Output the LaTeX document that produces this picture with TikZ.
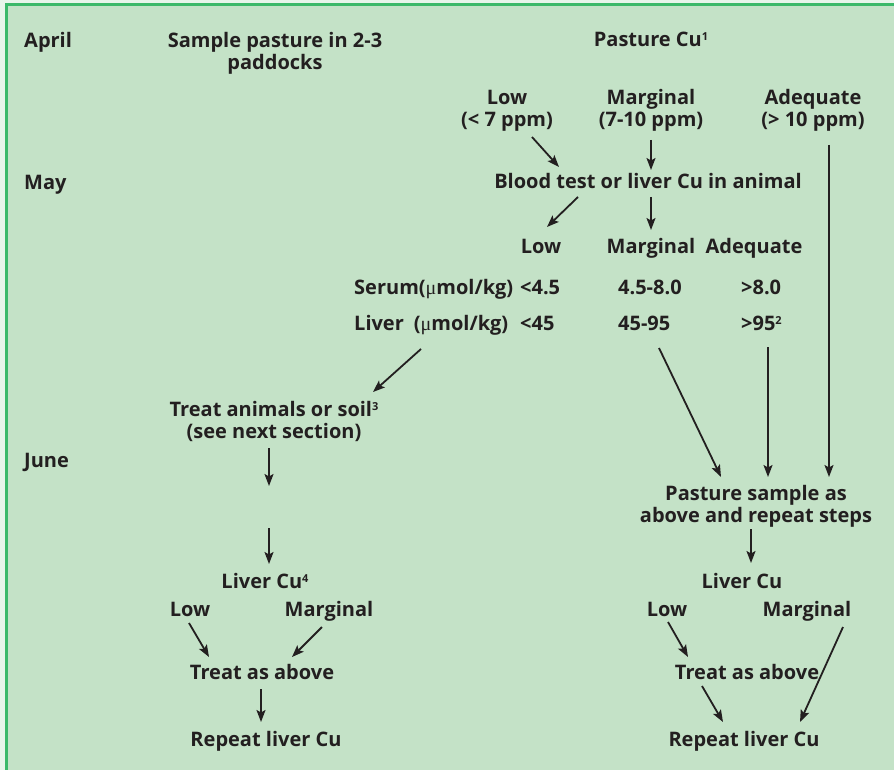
\documentclass[tikz,border=0pt]{standalone}
\usepackage{fontspec}
\setmainfont{Open Sans}
\newfontfamily\mufont{Liberation Serif}
\usetikzlibrary{calc,arrows.meta}
\definecolor{ink}{HTML}{231F20}
\definecolor{boxfill}{HTML}{C4E2C7}
\definecolor{boxline}{HTML}{3CB96A}
\definecolor{pagebg}{HTML}{E9F5EB}
\tikzset{
	txt/.style={font=\bfseries\fontsize{20}{22}\selectfont, text=ink, inner sep=0pt, align=center, anchor=base},
	txtl/.style={txt, align=left, anchor=base west},
	arr/.style={draw=ink, line width=1.8pt, -{Stealth[length=12pt,width=9pt,inset=2.5pt]}},
}
\newcommand{\mumol}{{\mdseries\mufont μ}mol/kg}
\newcommand{\fnum}[1]{\raisebox{6pt}{\fontsize{11}{11}\selectfont #1}}

\begin{document}
\begin{tikzpicture}[x=1pt,y=-1pt]
			%%%%% START %%%%%
			\useasboundingbox (0,0) rectangle (894,770);
			\fill[pagebg] (0,0) rectangle (894,770);
			\fill[boxfill] (6,5) rectangle (894,770);
			\draw[boxline, line width=3pt] (6,770) -- (6,5) -- (894,5);
			
			\node[txtl] (april) at (24,48) {April};
			\node[txtl] (may) at (24,190) {May};
			\node[txtl] (june) at (24,467) {June};
			
			\node[txt] (sample) at (275,70) {Sample pasture in 2-3\\paddocks};
			\node[txt] (pcu) at (651,47) {Pasture Cu\fnum{1}};
			
			\node[txt] (lowP) at (507,127) {Low\\(< 7 ppm)};
			\node[txt] (margP) at (651,127) {Marginal\\(7-10 ppm)};
			\node[txt] (adeqP) at (813,127) {Adequate\\(> 10 ppm)};
			
			\node[txt] (blood) at (648,189) {Blood test or liver Cu in animal};
			
			\node[txt] (lowB) at (541,253) {Low};
			\node[txt] (margB) at (651,253) {Marginal};
			\node[txt] (adeqB) at (754,253) {Adequate};
			
			\node[txtl] (serum) at (354,294) {Serum(\mumol)};
			\node[txtl] (sLow) at (520,294) {<4.5};
			\node[txtl] (sMarg) at (618,294) {4.5-8.0};
			\node[txtl] (sAdeq) at (741,294) {>8.0};
			\node[txtl] (liver) at (354,330) {Liver\hspace{10pt}(\mumol)};
			\node[txtl] (lLow) at (520,330) {<45};
			\node[txtl] (lMarg) at (618,330) {45-95};
			\node[txtl] (lAdeq) at (741,330) {>95\fnum{2}};
			
			\node[txt] (treat1) at (274,438) {Treat animals or soil\fnum{3}\\(see next section)};
			\coordinate (gapA) at (269,486);
			\coordinate (gapB) at (269,528);
			\node[txt] (liv1) at (265,588) {Liver Cu\fnum{4}};
			\node[txt] (low1) at (190,616) {Low};
			\node[txt] (marg1) at (329,616) {Marginal};
			\node[txt] (treatA1) at (262,679) {Treat as above};
			\node[txt] (rep1) at (266,746) {Repeat liver Cu};
			
			\node[txt] (pasS) at (756,522) {Pasture sample as\\above and repeat steps};
			\node[txt] (liv2) at (742,588) {Liver Cu};
			\node[txt] (low2) at (667,616) {Low};
			\node[txt] (marg2) at (807,616) {Marginal};
			\node[txt] (treatA2) at (747,679) {Treat as above};
			\node[txt] (rep2) at (744,746) {Repeat liver Cu};
			
			\draw[arr] ($(lowP.base)+(25,10)$) -- ($(blood.base)+(-89,-22)$);
			\draw[arr] ($(margP.base)+(0,13)$) -- ($(blood.base)+(3,-19)$);
			\draw[arr] ($(adeqP.base)+(16,18)$) -- ($(pasS.base)+(73,-45)$);
			\draw[arr] ($(blood.base)+(-70,8)$) -- ($(lowB.base)+(6,-26)$);
			\draw[arr] ($(blood.base)+(3,8)$) -- ($(margB.base)+(0,-23)$);
			
			\draw[arr] ($(lLow.base west)+(-99,19)$) -- ($(treat1.base)+(99,-46)$);
			\draw[arr] ($(lMarg.base west)+(41,18)$) -- ($(pasS.base)+(-35,-45)$);
			\draw[arr] ($(lAdeq.base west)+(27,17)$) -- ($(pasS.base)+(12,-45)$);
			
			\draw[arr] ($(treat1.base)+(-5,10)$) -- (gapA);
			\draw[arr] (gapB) -- ($(liv1.base)+(4,-24)$);
			\draw[arr] ($(low1.base)+(-1,7)$) -- ($(treatA1.base)+(-53,-22)$);
			\draw[arr] ($(marg1.base)+(-7,11)$) -- ($(treatA1.base)+(30,-22)$);
			\draw[arr] ($(treatA1.base)+(-1,10)$) -- ($(rep1.base)+(-5,-24)$);
			
			\draw[arr] ($(pasS.base)+(-5,7)$) -- ($(liv2.base)+(9,-25)$);
			\draw[arr] ($(low2.base)+(1,6)$) -- ($(treatA2.base)+(-59,-22)$);
			\draw[arr] ($(marg2.base)+(36,11)$) -- ($(rep2.base)+(56,-24)$);
			\draw[arr] ($(treatA2.base)+(-45,7)$) -- ($(rep2.base)+(-21,-24)$);
			%%%%% END %%%%%
\end{tikzpicture}
\end{document}
